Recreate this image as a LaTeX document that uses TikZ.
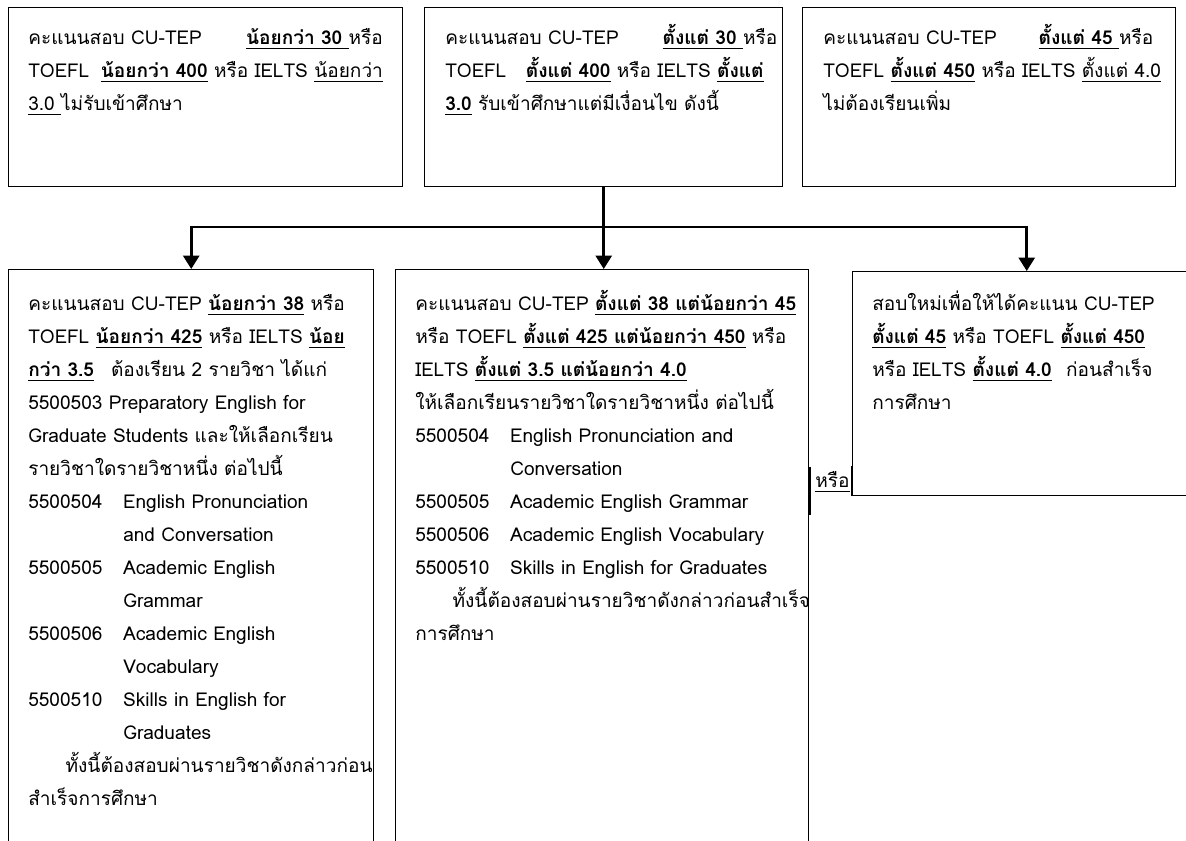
\documentclass[tikz,border=0pt]{standalone}
\usepackage{fontspec}
\setmainfont[Script=Thai,WordSpace=0.85]{Loma}
\usetikzlibrary{arrows.meta,positioning}

\newcommand{\uln}[1]{\leavevmode\setbox0\hbox{#1}\rlap{\rule[-2.8pt]{\wd0}{0.75pt}}\box0}
\newcommand{\jline}[2]{\makebox[#1][l]{#2}}
\newcommand{\crs}[2]{\makebox[71.25pt][l]{#1}#2}
\newcommand{\crsgap}{\hspace*{71.25pt}}
\newcommand{\indgap}{\hspace*{28pt}}

\begin{document}
\begin{tikzpicture}[x=0.75pt,y=-0.75pt,box/.style={draw=black,line width=1.1pt,anchor=north west,inner sep=0pt},txt/.style={anchor=base west,align=left,text width=330pt,inner sep=0pt,font=\fontsize{14.3}{24.75}\selectfont},conn/.style={line width=1.9pt,-{Triangle[width=12pt,length=10pt]}}]
\def\rowa{7};
\def\rowb{269};
\def\basea{45};
\def\baseb{311};

\clip (0,0) rectangle (1186,841);

% top row
\node[box,minimum width=295.5pt,minimum height=134.25pt] (b1) at (8,\rowa) {};
\node[box,minimum width=268.5pt,minimum height=134.25pt] (b2) at (424,\rowa) {};
\node[box,minimum width=279.75pt,minimum height=134.25pt] (b3) at (802,\rowa) {};

\node[txt] (t1) at (28,\basea) {\jline{266pt}{คะแนนสอบ CU-TEP\hfill\textbf{\uln{น้อยกว่า 30~}}หรือ}\\
\jline{266pt}{TOEFL\hfill\textbf{\uln{น้อยกว่า 400}} หรือ IELTS \uln{น้อยกว่า}}\\
\uln{3.0~} ไม่รับเข้าศึกษา};
\node[txt] (t2) at (445,\basea) {\jline{249pt}{คะแนนสอบ CU-TEP\hspace{16pt}\hfill\textbf{\uln{ตั้งแต่ 30~}}หรือ}\\
TOEFL\hspace{10pt} \textbf{\uln{ตั้งแต่ 400}} หรือ IELTS \textbf{\uln{ตั้งแต่}}\\
\textbf{\uln{3.0}} รับเข้าศึกษาแต่มีเงื่อนไข ดังนี้};
\node[txt] (t3) at (823,\basea) {\jline{247.5pt}{คะแนนสอบ CU-TEP\hfill\textbf{\uln{ตั้งแต่ 45~}}หรือ}\\
TOEFL \textbf{\uln{ตั้งแต่ 450}} หรือ IELTS \uln{ตั้งแต่ 4.0}\\
ไม่ต้องเรียนเพิ่ม};

% bottom row
\node[box,minimum width=273.75pt,minimum height=480pt] (b4) at (8,\rowb) {};
\node[box,minimum width=309.75pt,minimum height=480pt] (b5) at (395,\rowb) {};
\node[box,minimum width=261pt,minimum height=168pt] (b6) at (852,271) {};

\node[txt] (t4) at (28,\baseb) {คะแนนสอบ CU-TEP \textbf{\uln{น้อยกว่า 38}} หรือ\\
TOEFL \textbf{\uln{น้อยกว่า 425}} หรือ IELTS \textbf{\uln{น้อย}}\\
\textbf{\uln{กว่า 3.5}}\hspace{8pt} ต้องเรียน 2 รายวิชา ได้แก่\\
5500503 Preparatory English for\\
Graduate Students และให้เลือกเรียน\\
รายวิชาใดรายวิชาหนึ่ง ต่อไปนี้\\
\crs{5500504}{English Pronunciation}\\
\crsgap and Conversation\\
\crs{5500505}{Academic English}\\
\crsgap Grammar\\
\crs{5500506}{Academic English}\\
\crsgap Vocabulary\\
\crs{5500510}{Skills in English for}\\
\crsgap Graduates\\
\indgap ทั้งนี้ต้องสอบผ่านรายวิชาดังกล่าวก่อน\\
สำเร็จการศึกษา};
\node[txt] (t5) at (415,\baseb) {คะแนนสอบ CU-TEP \textbf{\uln{ตั้งแต่ 38 แต่น้อยกว่า 45}}\\
หรือ TOEFL \textbf{\uln{ตั้งแต่ 425 แต่น้อยกว่า 450}} หรือ\\
IELTS \textbf{\uln{ตั้งแต่ 3.5 แต่น้อยกว่า 4.0}}\\
ให้เลือกเรียนรายวิชาใดรายวิชาหนึ่ง ต่อไปนี้\\
\crs{5500504}{English Pronunciation and}\\
\crsgap Conversation\\
\crs{5500505}{Academic English Grammar}\\
\crs{5500506}{Academic English Vocabulary}\\
\crs{5500510}{Skills in English for Graduates}\\
\indgap ทั้งนี้ต้องสอบผ่านรายวิชาดังกล่าวก่อนสำเร็จ\\
การศึกษา};
\node[txt] (t6) at (872,\baseb) {สอบใหม่เพื่อให้ได้คะแนน CU-TEP\\
\textbf{\uln{ตั้งแต่ 45}} หรือ TOEFL \textbf{\uln{ตั้งแต่ 450}}\\
หรือ IELTS \textbf{\uln{ตั้งแต่ 4.0}}\hspace{6pt} ก่อนสำเร็จ\\
การศึกษา};

\node[txt,text width=40pt] (orlbl) at (815,488) {\uln{หรือ}};
\draw[line width=1.8pt] (b5.north east) ++(0,198) -- ++(0,48);
\draw[line width=1.8pt] (b6.south west) -- ++(0,-30);

% connectors
\coordinate (fork) at (b2.south |- 0,227);
\draw[line width=1.9pt] (b2.south) -- (fork);
\draw[conn] (fork) -- (b5.north -| fork);
\draw[conn] (fork) -| (b4.north);
\draw[conn] (fork) -| (b6.north);
\end{tikzpicture}
\end{document}
